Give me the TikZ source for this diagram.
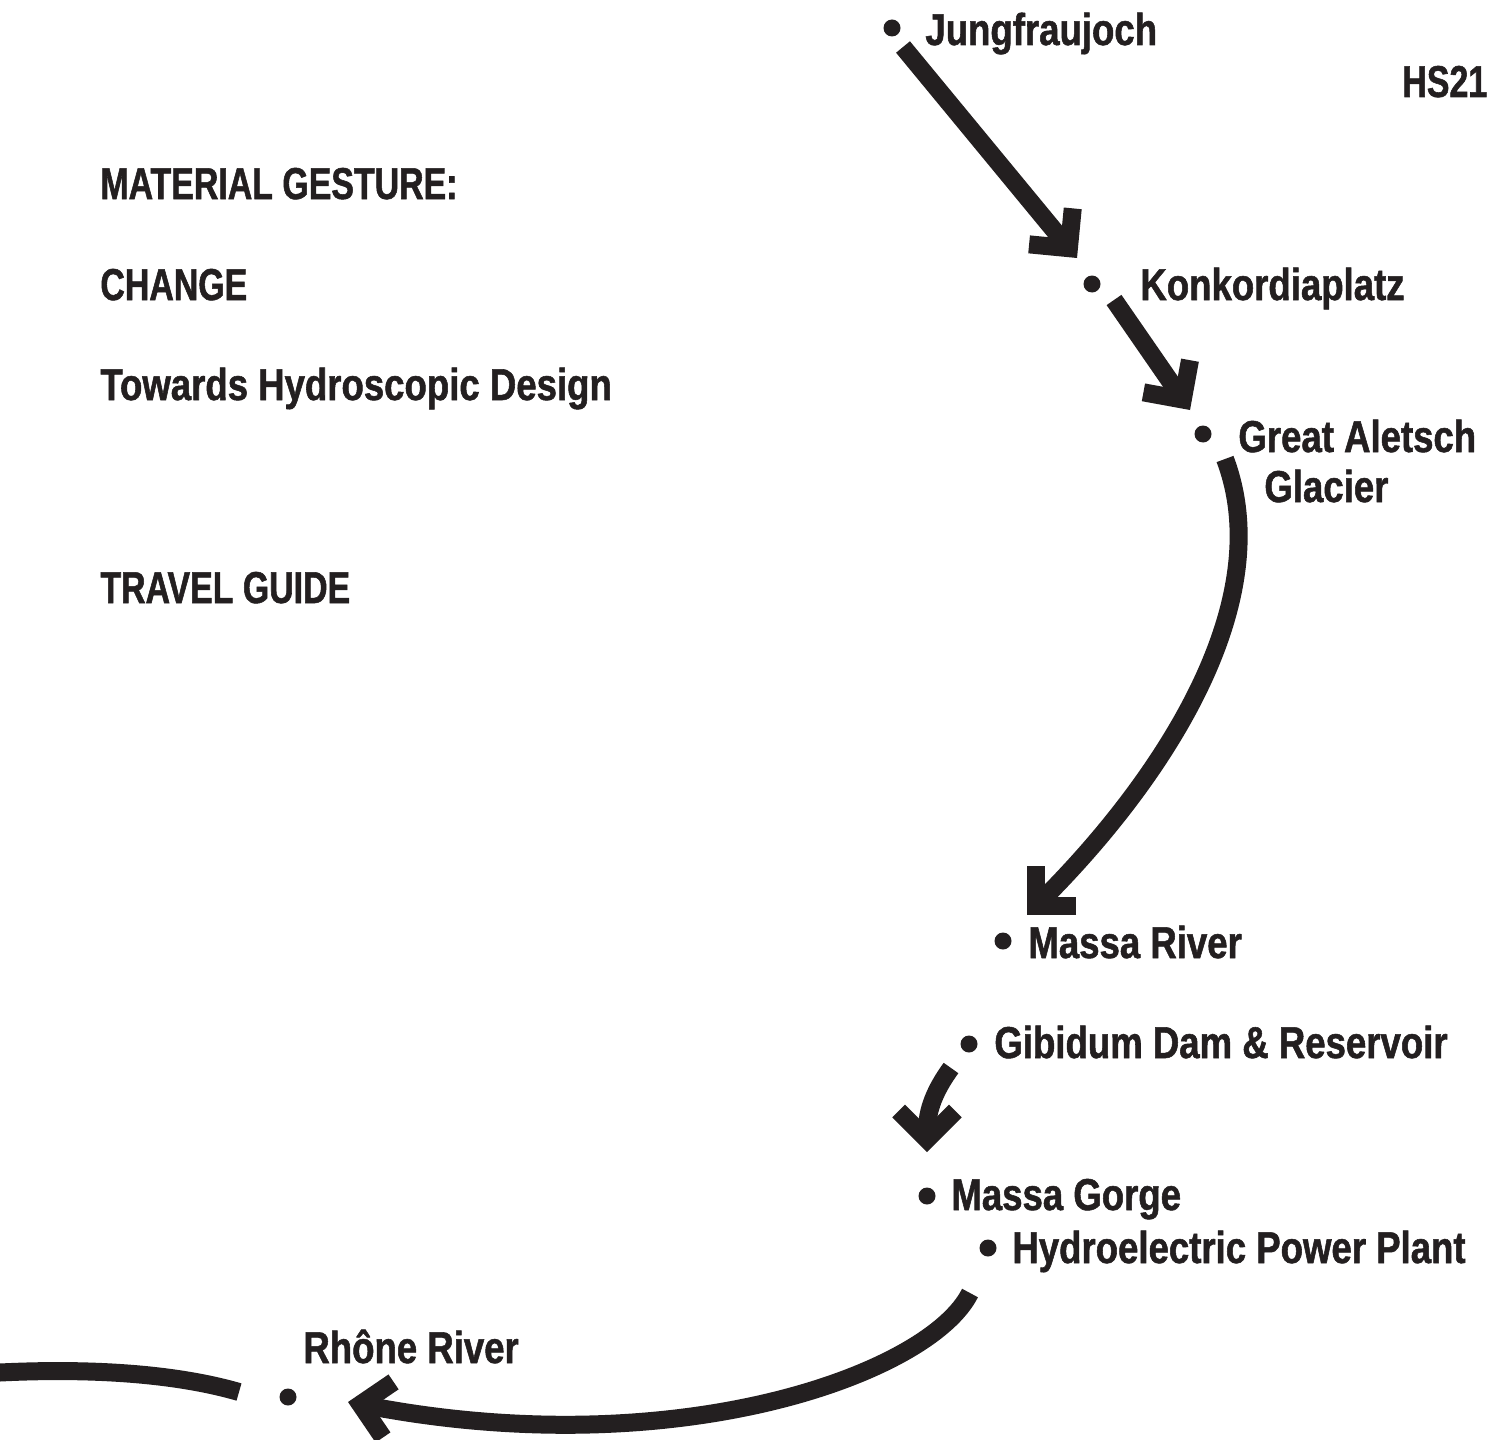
\documentclass[tikz,border=0pt]{standalone}
\usepackage{fontspec}
\setmainfont{Liberation Sans}[FakeStretch=0.82,BoldFeatures={FakeBold=1.2}]
\newfontfamily\capsfont{Liberation Sans}[FakeStretch=0.76,BoldFeatures={FakeBold=1.2}]
\usetikzlibrary{arrows.meta,positioning}
\definecolor{ink}{RGB}{35,31,32}
\tikzset{
  place/.style={circle,fill=ink,inner sep=0pt,minimum size=8.5pt},
  lbl/.style={anchor=base west,inner sep=0pt,text=ink,font=\fontsize{22.3}{25}\selectfont\bfseries},
  title/.style={lbl,font=\fontsize{22.3}{25}\selectfont\capsfont\bfseries},
  river/.style={draw=ink,line width=9pt},
  flow/.style={river,-{Straight Barb[sharp,angle=90:20pt,line width=0pt 1 0]}}
}
\begin{document}
\begin{tikzpicture}[x=0.5pt,y=-0.5pt]
\useasboundingbox (0,0) rectangle (1507,1439);
% heading
\node[title] (t1) at (100,199) {MATERIAL GESTURE:};
\node[title] (t2) at (100,300) {CHANGE};
\node[lbl]   (t3) at (100,400) {Towards Hydroscopic Design};
\node[title] (t4) at (100,603) {TRAVEL GUIDE};
\node[title] (hs) at (1402,97) {HS21};
% stops
\node[place] (jf) at (892,28) {};
\node[place] (kp) at (1092,284) {};
\node[place] (ag) at (1203,434) {};
\node[place] (mr) at (1003,941) {};
\node[place] (gd) at (969,1044) {};
\node[place] (mg) at (927,1196) {};
\node[place] (hp) at (988,1248) {};
\node[place] (rr) at (288,1397) {};
\node[lbl] (jf-l) at (925,45) {Jungfraujoch};
\node[lbl] (kp-l) at (1140,300) {Konkordiaplatz};
\node[lbl] (ag-l) at (1238,452) {Great Aletsch};
\node[lbl] (ag-l2) at (1264,502) {Glacier};
\node[lbl] (mr-l) at (1028,958) {Massa River};
\node[lbl] (gd-l) at (994,1058) {Gibidum Dam \& Reservoir};
\node[lbl] (mg-l) at (951,1210) {Massa Gorge};
\node[lbl] (hp-l) at (1012,1263) {Hydroelectric Power Plant};
\node[lbl] (rr-l) at (303,1363) {Rhône River};
% arrow ends
\coordinate (jf-out) at (903,47);   \coordinate (kp-in) at (1077,258);
\coordinate (kp-out) at (1114,300); \coordinate (ag-in) at (1190,410);
\coordinate (ag-out) at (1225,459); \coordinate (mr-in) at (1027,915);
\coordinate (gd-out) at (951,1068); \coordinate (mg-in) at (927,1152);
\coordinate (hp-out) at (970,1293); \coordinate (rr-in) at (348,1402);
\coordinate (rr-out) at (239,1392); \coordinate (west) at (-10,1373);
% route
\draw[flow] (jf-out) -- (kp-in);
\draw[flow] (kp-out) -- (ag-in);
\draw[flow] (ag-out) .. controls (1278,599) and (1168,774) .. (mr-in);
\draw[flow] (gd-out) .. controls (935,1090) and (927,1110) .. (mg-in);
\draw[flow] (hp-out) .. controls (930,1373) and (680,1465) .. (rr-in);
\draw[river] (rr-out) .. controls (170,1372) and (80,1368) .. (west);
\end{tikzpicture}
\end{document}
